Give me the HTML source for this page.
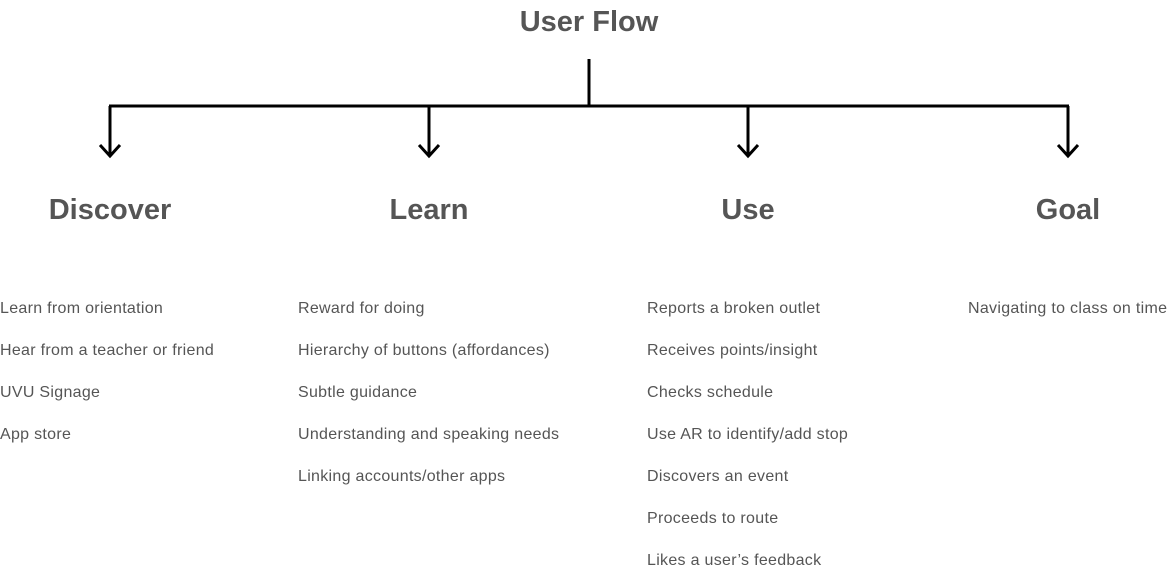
<!DOCTYPE html>
<html><head><meta charset="utf-8"><style>
body{margin:0;width:1168px;height:570px;background:#fff;position:relative;overflow:hidden;font-family:"Liberation Sans",sans-serif;color:#555}
.h{position:absolute;font-weight:bold;font-size:29px;transform:translateX(-50%);white-space:nowrap;line-height:34px}
.t{position:absolute;font-size:16px;letter-spacing:0.3px;white-space:nowrap;line-height:20px}
</style></head><body>
<svg width="1168" height="570" style="position:absolute;left:0;top:0">
<g stroke="#000" stroke-width="3" fill="none">
<line x1="589" y1="59" x2="589" y2="106"/>
<line x1="109" y1="106" x2="1069" y2="106"/>
<line x1="110" y1="106" x2="110" y2="156"/><polyline points="100,145 110,156 120,145"/>
<line x1="429" y1="106" x2="429" y2="156"/><polyline points="419,145 429,156 439,145"/>
<line x1="748" y1="106" x2="748" y2="156"/><polyline points="738,145 748,156 758,145"/>
<line x1="1068" y1="106" x2="1068" y2="156"/><polyline points="1058,145 1068,156 1078,145"/>
</g></svg>
<div class="h" style="left:589px;top:5px">User Flow</div>
<div class="h" style="left:110px;top:193px">Discover</div>
<div class="h" style="left:429px;top:193px">Learn</div>
<div class="h" style="left:748px;top:193px">Use</div>
<div class="h" style="left:1068px;top:193px">Goal</div>
<div class="t" style="left:0;top:299px">Learn from orientation</div>
<div class="t" style="left:0;top:341px">Hear from a teacher or friend</div>
<div class="t" style="left:0;top:383px">UVU Signage</div>
<div class="t" style="left:0;top:425px">App store</div>
<div class="t" style="left:298px;top:299px">Reward for doing</div>
<div class="t" style="left:298px;top:341px">Hierarchy of buttons (affordances)</div>
<div class="t" style="left:298px;top:383px">Subtle guidance</div>
<div class="t" style="left:298px;top:425px">Understanding and speaking needs</div>
<div class="t" style="left:298px;top:467px">Linking accounts/other apps</div>
<div class="t" style="left:647px;top:299px">Reports a broken outlet</div>
<div class="t" style="left:647px;top:341px">Receives points/insight</div>
<div class="t" style="left:647px;top:383px">Checks schedule</div>
<div class="t" style="left:647px;top:425px">Use AR to identify/add stop</div>
<div class="t" style="left:647px;top:467px">Discovers an event</div>
<div class="t" style="left:647px;top:509px">Proceeds to route</div>
<div class="t" style="left:647px;top:551px">Likes a user’s feedback</div>
<div class="t" style="left:968px;top:299px">Navigating to class on time</div>
</body></html>
